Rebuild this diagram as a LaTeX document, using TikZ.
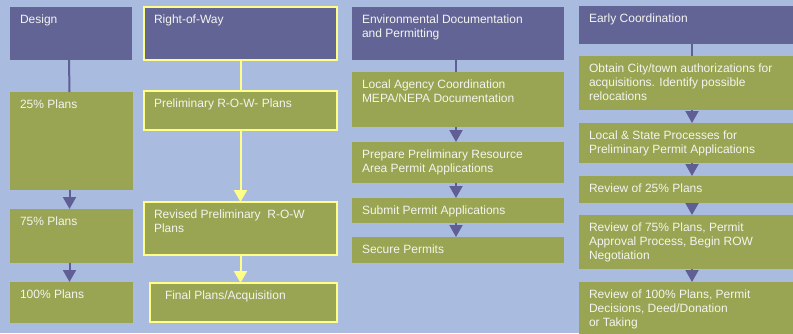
\documentclass[tikz,border=0pt]{standalone}
\usepackage{fontspec}
\setmainfont{Liberation Sans}
\usetikzlibrary{arrows.meta}

\definecolor{bgblue}{HTML}{A9BBDF}
\definecolor{hdrpurple}{HTML}{636496}
\definecolor{stepgreen}{HTML}{99A553}
\definecolor{rowyellow}{HTML}{FFFF88}
\definecolor{arrowpurple}{HTML}{5F5F96}
\definecolor{celltext}{HTML}{F4F4F0}

% box body: fixed-size parbox, text set from the top-left corner
\newcommand\celltop{7.6pt}
\newcommand\cellleft{10pt}
\newcommand\cell[7]{%
  \node[#1, anchor=north west] (#2) at (#3,#4)
    {\parbox[b][#6pt][t]{#5pt}{\vspace*{\celltop}\leftskip=\cellleft
      \rightskip=0pt plus 1fil\relax #7}};}

\tikzset{
  cellbase/.style={inner sep=0pt, outer sep=0pt, text=celltext,
    font=\fontsize{12}{14.3}\selectfont},
  hdr/.style={cellbase, fill=hdrpurple},
  stepbox/.style={cellbase, fill=stepgreen},
  rowhdr/.style={hdr, draw=rowyellow, line width=2pt},
  rowbox/.style={stepbox, draw=rowyellow, line width=2pt},
  pline/.style={draw=arrowpurple, line width=2pt},
  parrow/.style={pline, -{Triangle[length=12pt,width=13pt]}},
  yline/.style={draw=rowyellow, line width=2pt},
  yarrow/.style={yline, -{Triangle[length=12pt,width=13pt]}},
}

\begin{document}
\begin{tikzpicture}[x=1pt, y=-1pt]
  \fill[bgblue] (0,0) rectangle (793,333);
  \useasboundingbox (0,0) rectangle (793,333);
  \clip (0,0) rectangle (793,333);

  % Design
  \cell{hdr}{design}{10}{7}{122}{53}{Design}
  \cell{stepbox}{p25}{10}{92}{123}{98}{25\% Plans}
  \cell{stepbox}{p75}{10}{209}{123}{54}{75\% Plans}
  \cell{stepbox}{p100}{10}{282}{123}{41}{100\% Plans}
  \draw[pline] ([xshift=-2pt]design.south) -- ([xshift=-2pt]p25.north);
  \draw[parrow] ([xshift=-2pt]p25.south) -- ([xshift=-2pt]p75.north);
  \draw[parrow] ([xshift=-2pt]p75.south) -- ([xshift=-2pt]p100.north);

  % Right-of-Way
  \cell{rowhdr}{row}{144}{7}{193}{53}{Right-of-Way}
  \cell{rowbox}{prelim}{144}{91}{193}{39}{Preliminary R-O-W- Plans}
  \cell{rowbox}{revised}{144}{202}{193}{53}{Revised Preliminary\ \ R-O-W\\Plans}
  \cell{rowbox}{final}{150}{283}{187}{39}{\hspace*{5pt}Final Plans/Acquisition}
  \draw[yline] (row.south) -- (prelim.north);
  \draw[yarrow] (prelim.south) -- (revised.north);
  \draw[yarrow] (revised.south) -- (final.north -| revised.south);

  % Environmental Documentation and Permitting
  \cell{hdr}{env}{352}{7}{212}{53}{Environmental Documentation\\and Permitting}
  \cell{stepbox}{agency}{352}{72}{212}{55}{Local Agency Coordination\\MEPA/NEPA Documentation}
  \cell{stepbox}{prepare}{352}{142}{212}{41}{Prepare Preliminary Resource\\Area Permit Applications}
  \cell{stepbox}{submit}{352}{198}{212}{25}{Submit Permit Applications}
  \cell{stepbox}{secure}{352}{237}{212}{26}{Secure Permits}
  \draw[pline] ([xshift=-2pt]env.south) -- ([xshift=-2pt]agency.north);
  \draw[parrow] ([xshift=-2pt]agency.south) -- ([xshift=-2pt]prepare.north);
  \draw[parrow] ([xshift=-2pt]prepare.south) -- ([xshift=-2pt]submit.north);
  \draw[parrow] ([xshift=-2pt]submit.south) -- ([xshift=-2pt]secure.north);

  % Early Coordination
  \cell{hdr}{early}{579}{6}{226}{38}{Early Coordination}
  \cell{stepbox}{obtain}{579}{56}{226}{54}{Obtain City/town authorizations for\\acquisitions. Identify possible\\relocations}
  \cell{stepbox}{state}{579}{123}{226}{40}{Local \& State Processes for\\Preliminary Permit Applications}
  \cell{stepbox}{rev25}{579}{176}{226}{27}{Review of 25\% Plans}
  \cell{stepbox}{rev75}{579}{215}{226}{54}{Review of 75\% Plans, Permit\\Approval Process, Begin ROW\\Negotiation}
  \cell{stepbox}{rev100}{579}{282}{226}{60}{Review of 100\% Plans, Permit\\Decisions, Deed/Donation\\or Taking}
  \draw[pline] (early.south) -- (obtain.north);
  \draw[parrow] (obtain.south) -- (state.north);
  \draw[parrow] (state.south) -- (rev25.north);
  \draw[parrow] (rev25.south) -- (rev75.north);
  \draw[parrow] (rev75.south) -- (rev100.north);
\end{tikzpicture}
\end{document}
